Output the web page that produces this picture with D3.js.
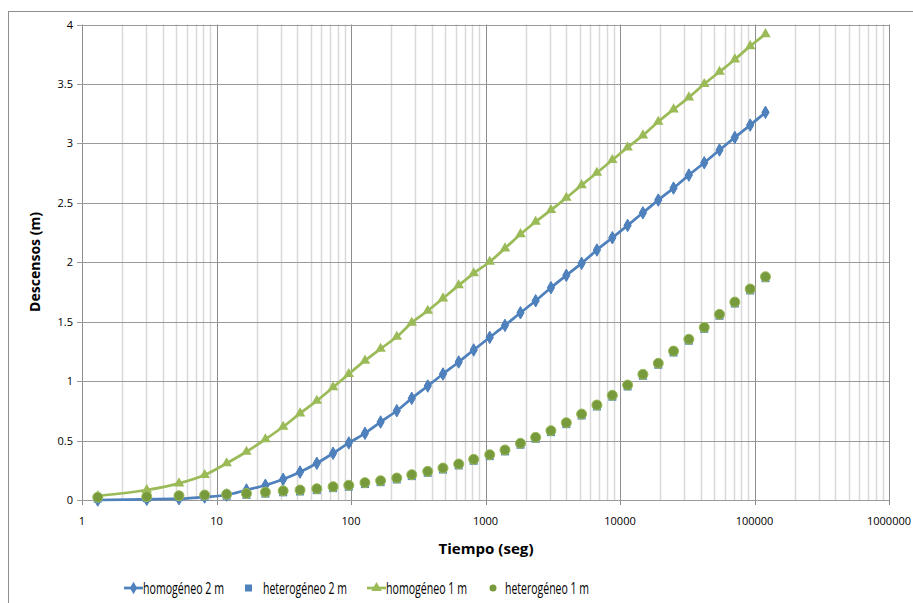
<!DOCTYPE html>
<html>
<head>
<meta charset="utf-8">
<script src="https://cdn.jsdelivr.net/npm/d3@7"></script>
<style>
  body { margin: 0; background: #fff; }
  svg text { font-family: "Open Sans", "Noto Sans", sans-serif; fill: #000; }
</style>
</head>
<body>
<div id="chart"></div>
<script>
// Data
const tiempo = [1.31, 3.03, 5.26, 8.16, 11.9, 16.7, 23.1, 31.3, 41.8, 55.7, 73.6, 96.3,
  127, 166, 219, 283, 372, 483, 632, 817, 1075, 1396, 1820, 2360, 3066, 3990, 5184,
  6735, 8767, 11390, 14800, 19250, 25010, 32500, 42300, 54950, 71400, 92900, 120700];

const homogeneo2 = [0.00, 0.006, 0.011, 0.025, 0.042, 0.084, 0.124, 0.174, 0.235, 0.309,
  0.393, 0.48, 0.561, 0.656, 0.751, 0.855, 0.959, 1.06, 1.161, 1.262, 1.368, 1.469, 1.575,
  1.676, 1.786, 1.89, 1.991, 2.103, 2.206, 2.31, 2.416, 2.523, 2.624, 2.733, 2.837, 2.944,
  3.05, 3.154, 3.261];

const heterogeneo2 = [0.012, 0.016, 0.024, 0.03, 0.036, 0.043, 0.054, 0.065, 0.072, 0.083,
  0.1, 0.112, 0.134, 0.15, 0.173, 0.201, 0.229, 0.257, 0.291, 0.33, 0.369, 0.409, 0.465,
  0.515, 0.571, 0.638, 0.711, 0.787, 0.869, 0.955, 1.045, 1.138, 1.241, 1.34, 1.44, 1.55,
  1.653, 1.763, 1.866];

const homogeneo1 = [0.034, 0.084, 0.14, 0.21, 0.309, 0.406, 0.511, 0.616, 0.729, 0.835,
  0.948, 1.06, 1.172, 1.272, 1.373, 1.491, 1.592, 1.696, 1.806, 1.907, 2.004, 2.117, 2.236,
  2.341, 2.439, 2.542, 2.649, 2.753, 2.86, 2.966, 3.067, 3.182, 3.286, 3.387, 3.499, 3.602,
  3.706, 3.818, 3.919];

const heterogeneo1 = [0.023, 0.028, 0.036, 0.042, 0.048, 0.055, 0.066, 0.077, 0.084, 0.095,
  0.112, 0.124, 0.146, 0.162, 0.185, 0.213, 0.241, 0.269, 0.303, 0.342, 0.381, 0.421, 0.477,
  0.527, 0.583, 0.65, 0.723, 0.799, 0.881, 0.967, 1.057, 1.15, 1.253, 1.352, 1.452, 1.562,
  1.665, 1.775, 1.878];

const xTicks = [1, 10, 100, 1000, 10000, 100000, 1000000];
const yTicks = [0, 0.5, 1, 1.5, 2, 2.5, 3, 3.5, 4];

const blue = "#4F81BD", green = "#9BBB59", olive = "#779A3C";

const svg = d3.select("#chart").append("svg")
  .attr("width", 913).attr("height", 603);

// chart border
svg.append("rect")
  .attr("x", 8.5).attr("y", 11.5).attr("width", 920).attr("height", 600)
  .attr("fill", "none").attr("stroke", "#8e8e8e");

const x = d3.scaleLog().domain([1, 1000000]).range([82, 889]);
const y = d3.scaleLinear().domain([0, 4]).range([500, 24.5]);

// minor vertical grid
const minor = [];
for (let d = 1; d < 1000000; d *= 10)
  for (let k = 2; k <= 9; k++) minor.push(d * k);
svg.append("g").selectAll("line").data(minor).join("line")
  .attr("x1", d => Math.round(x(d)) + 0.5).attr("x2", d => Math.round(x(d)) + 0.5)
  .attr("y1", y(4)).attr("y2", y(0))
  .attr("stroke", "#d9d9d9").attr("stroke-width", 1.5);

// major grid
svg.append("g").selectAll("line").data(xTicks).join("line")
  .attr("x1", d => Math.round(x(d)) + 0.5).attr("x2", d => Math.round(x(d)) + 0.5)
  .attr("y1", y(4)).attr("y2", y(0) + 5)
  .attr("stroke", "#8c8c8c");
svg.append("g").selectAll("line").data(yTicks).join("line")
  .attr("x1", x(1) - 5).attr("x2", x(1000000))
  .attr("y1", d => Math.round(y(d)) + 0.5).attr("y2", d => Math.round(y(d)) + 0.5)
  .attr("stroke", "#9a9a9a");

// tick labels
svg.append("g").selectAll("text").data(yTicks).join("text")
  .attr("x", 73).attr("y", d => y(d) + 4)
  .attr("text-anchor", "end").attr("font-size", 11)
  .text(d => d);
svg.append("g").selectAll("text").data(xTicks).join("text")
  .attr("x", d => x(d)).attr("y", 525)
  .attr("text-anchor", "middle").attr("font-size", 11)
  .text(d => d);

// axis titles
svg.append("text")
  .attr("transform", "translate(40,262) rotate(-90)")
  .attr("text-anchor", "middle").attr("font-size", 14).attr("font-weight", "bold")
  .attr("textLength", 100).attr("lengthAdjust", "spacingAndGlyphs")
  .text("Descensos (m)");
svg.append("text")
  .attr("x", 486).attr("y", 554)
  .attr("text-anchor", "middle").attr("font-size", 14).attr("font-weight", "bold")
  .attr("textLength", 95).attr("lengthAdjust", "spacingAndGlyphs")
  .text("Tiempo (seg)");

const line = d3.line()
  .x(d => x(d[0])).y(d => y(d[1]))
  .curve(d3.curveCatmullRom.alpha(0.5));

const pts = vals => tiempo.map((t, i) => [t, vals[i]]);
const diamond = d3.symbol().type(d3.symbolDiamond).size(45);
const triangle = d3.symbol().type(d3.symbolTriangle).size(48);

// homogeneo 2 m
svg.append("path").datum(pts(homogeneo2)).attr("d", line)
  .attr("fill", "none").attr("stroke", blue).attr("stroke-width", 2.75);
svg.append("g").selectAll("path").data(pts(homogeneo2)).join("path")
  .attr("d", diamond)
  .attr("transform", d => `translate(${x(d[0])},${y(d[1])})`)
  .attr("fill", blue).attr("stroke", "#4A7EBB");

// heterogeneo 2 m
svg.append("g").selectAll("rect").data(pts(heterogeneo2)).join("rect")
  .attr("x", d => x(d[0]) - 4).attr("y", d => y(d[1]) - 4)
  .attr("width", 8).attr("height", 8)
  .attr("fill", blue);

// homogeneo 1 m
svg.append("path").datum(pts(homogeneo1)).attr("d", line)
  .attr("fill", "none").attr("stroke", green).attr("stroke-width", 2.75);
svg.append("g").selectAll("path").data(pts(homogeneo1)).join("path")
  .attr("d", triangle)
  .attr("transform", d => `translate(${x(d[0])},${y(d[1])})`)
  .attr("fill", green);

// heterogeneo 1 m
svg.append("g").selectAll("circle").data(pts(heterogeneo1)).join("circle")
  .attr("cx", d => x(d[0])).attr("cy", d => y(d[1])).attr("r", 5)
  .attr("fill", olive).attr("stroke", green).attr("stroke-width", 1);

// legend
const ly = 588;
const lg = svg.append("g").attr("font-size", 15.5);
const ltext = (xp, w, s) => lg.append("text").attr("x", xp).attr("y", ly + 5.5)
  .attr("textLength", w).attr("lengthAdjust", "spacingAndGlyphs").text(s);

lg.append("line").attr("x1", 124).attr("x2", 143).attr("y1", ly).attr("y2", ly)
  .attr("stroke", blue).attr("stroke-width", 2.75);
lg.append("path").attr("d", diamond).attr("transform", `translate(133.5,${ly})`).attr("fill", blue);
ltext(143, 81, "homogéneo 2 m");

lg.append("rect").attr("x", 245).attr("y", ly - 3.5).attr("width", 7).attr("height", 7).attr("fill", blue);
ltext(263, 84, "heterogéneo 2 m");

lg.append("line").attr("x1", 367).attr("x2", 386).attr("y1", ly).attr("y2", ly)
  .attr("stroke", green).attr("stroke-width", 2.75);
lg.append("path").attr("d", triangle).attr("transform", `translate(376.5,${ly})`).attr("fill", green);
ltext(386, 81, "homogéneo 1 m");

lg.append("circle").attr("cx", 493).attr("cy", ly).attr("r", 3.5).attr("fill", olive);
ltext(505, 84, "heterogéneo 1 m");
</script>
</body>
</html>
